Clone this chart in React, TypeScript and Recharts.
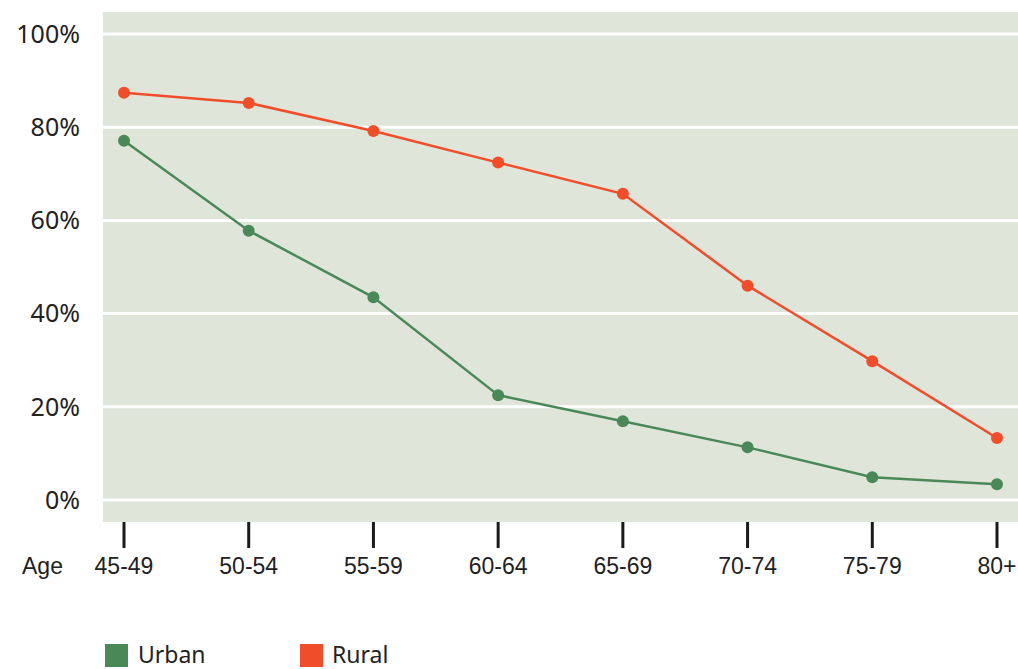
import React from "react";
import { LineChart, Line, XAxis, YAxis, CartesianGrid, Label } from "recharts";

// Share of each age group, by residence
const ageGroups = ["45-49", "50-54", "55-59", "60-64", "65-69", "70-74", "75-79", "80+"];
const urban = [77.1, 57.8, 43.5, 22.5, 16.9, 11.3, 4.9, 3.4];
const rural = [87.4, 85.2, 79.2, 72.4, 65.7, 46.0, 29.8, 13.3];
const yTicks = [0, 20, 40, 60, 80, 100];

const GREEN = "#4a8957";
const RED = "#f04e2b";
const BG = "#e0e5da";

const data = ageGroups.map((age, i) => ({ age, urban: urban[i], rural: rural[i] }));

const legendItems = [
  { name: "Urban", color: GREEN, left: 105, textLeft: 138 },
  { name: "Rural", color: RED, left: 300, textLeft: 332 },
];

const LegendRow = () => (
  <div style={{ position: "absolute", left: 0, top: 640, width: 1018, height: 29 }}>
    {legendItems.map((it) => (
      <React.Fragment key={it.name}>
        <div
          style={{
            position: "absolute",
            left: it.left,
            top: 4,
            width: 23,
            height: 23,
            background: it.color,
          }}
        />
        <div
          style={{
            position: "absolute",
            left: it.textLeft,
            top: -2,
            fontFamily: "'Noto Sans', sans-serif",
            fontSize: 23,
            color: "#222",
            lineHeight: "32px",
            whiteSpace: "nowrap",
          }}
        >
          {it.name}
        </div>
      </React.Fragment>
    ))}
  </div>
);

const AgeLabel = (props: any) => {
  const vb = props.viewBox || {};
  return (
    <text
      x={22}
      y={vb.y + 36}
      dy="0.71em"
      fontFamily="'Liberation Sans', Arial, sans-serif"
      fontSize={23}
      fill="#222"
    >
      Age
    </text>
  );
};

export default function App() {
  return (
    <div style={{ position: "absolute", left: 0, top: 0, width: 1018, height: 669, background: "#fff" }}>
      <LineChart
        width={1018}
        height={669}
        data={data}
        margin={{ top: 12, right: 0, bottom: 87, left: 0 }}
      >
        <CartesianGrid
          vertical={false}
          fill={BG}
          stroke="#ffffff"
          strokeWidth={3}
          horizontalValues={yTicks}
        />
        <XAxis
          dataKey="age"
          padding={{ left: 21, right: 21 }}
          axisLine={false}
          tickSize={26}
          tickMargin={10}
          tickLine={{ stroke: "#1a1a1a", strokeWidth: 3 }}
          tick={{ fill: "#222", fontSize: 23, fontFamily: "'Liberation Sans', Arial, sans-serif" }}
          height={60}
          interval={0}
        >
          <Label content={<AgeLabel />} />
        </XAxis>
        <YAxis
          domain={[-4.72, 104.72]}
          ticks={yTicks}
          width={103}
          axisLine={false}
          tickLine={false}
          tickSize={0}
          tickMargin={23}
          tickFormatter={(v: number) => `${v}%`}
          tick={{ fill: "#222", fontSize: 25, fontFamily: "'Noto Sans', sans-serif" }}
        />
        <Line
          dataKey="urban"
          name="Urban"
          stroke={GREEN}
          strokeWidth={2.5}
          dot={{ r: 6, fill: GREEN, stroke: "none" }}
          activeDot={false}
          isAnimationActive={false}
        />
        <Line
          dataKey="rural"
          name="Rural"
          stroke={RED}
          strokeWidth={2.5}
          dot={{ r: 6, fill: RED, stroke: "none" }}
          activeDot={false}
          isAnimationActive={false}
        />
      </LineChart>
      <LegendRow />
    </div>
  );
}
